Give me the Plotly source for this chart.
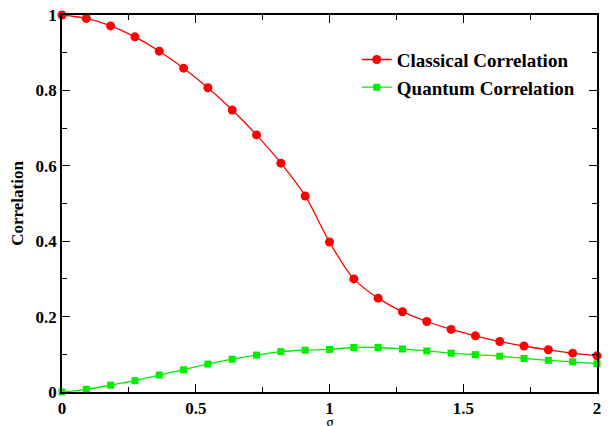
import plotly.graph_objects as go

g_values = [i * 2 / 22 for i in range(23)]
classical = [1.000, 0.991, 0.971, 0.942, 0.904, 0.859, 0.807, 0.748, 0.682, 0.607, 0.520,
             0.398, 0.300, 0.249, 0.213, 0.187, 0.166, 0.149, 0.134, 0.122, 0.112, 0.103, 0.096]
quantum = [0.000, 0.007, 0.018, 0.030, 0.045, 0.059, 0.074, 0.087, 0.098, 0.107, 0.111,
           0.113, 0.118, 0.118, 0.114, 0.109, 0.103, 0.099, 0.095, 0.089, 0.084, 0.080, 0.075]

font_family = "Liberation Serif"

fig = go.Figure()
fig.add_trace(go.Scatter(
    x=g_values, y=classical, name="Classical Correlation",
    mode="lines+markers", line=dict(color="#ff0000", width=1.3, shape="spline"),
    marker=dict(symbol="circle", size=9, color="#ff0000"), cliponaxis=False))
fig.add_trace(go.Scatter(
    x=g_values, y=quantum, name="Quantum Correlation",
    mode="lines+markers", line=dict(color="#00ee00", width=1.3, shape="spline"),
    marker=dict(symbol="square", size=7, color="#00ee00"), cliponaxis=False))

axis_common = dict(
    showgrid=False, zeroline=False, showline=True, linecolor="black", linewidth=1.5,
    mirror="allticks", ticks="inside", ticklen=8, tickwidth=1.3, tickcolor="black",
    tickfont=dict(family=font_family, size=17, color="black", weight="bold"),
    automargin=False,
)

fig.update_xaxes(range=[0, 2], dtick=0.5, tick0=0,
                 minor=dict(dtick=0.25, ticks="inside", ticklen=5, tickcolor="black", tickwidth=1.2),
                 **axis_common)
fig.update_yaxes(range=[0, 1], dtick=0.2, tick0=0,
                 minor=dict(dtick=0.1, ticks="inside", ticklen=5, tickcolor="black", tickwidth=1.2),
                 title=dict(text="Correlation", font=dict(family=font_family, size=17, color="black", weight="bold"),
                            standoff=8),
                 **axis_common)

# x-axis title placed as annotation so it can sit just below the tick labels
fig.add_annotation(text="g", x=1, xref="x", y=-0.052, yref="paper",
                   xanchor="center", yanchor="top", showarrow=False,
                   font=dict(family=font_family, size=16, color="black"))

fig.update_layout(
    width=608, height=426,
    margin=dict(l=62, r=11, t=15, b=34, autoexpand=False),
    paper_bgcolor="white", plot_bgcolor="white",
    font=dict(family=font_family, color="black"),
    showlegend=True,
    legend=dict(x=0.551, y=0.932, xanchor="left", yanchor="top",
                bgcolor="rgba(0,0,0,0)",
                font=dict(family=font_family, size=19, color="black", weight="bold"),
                tracegroupgap=0, itemwidth=30),
)

fig.write_html("out.html", config={"displayModeBar": False},
               post_script="document.body.style.margin='0';")
